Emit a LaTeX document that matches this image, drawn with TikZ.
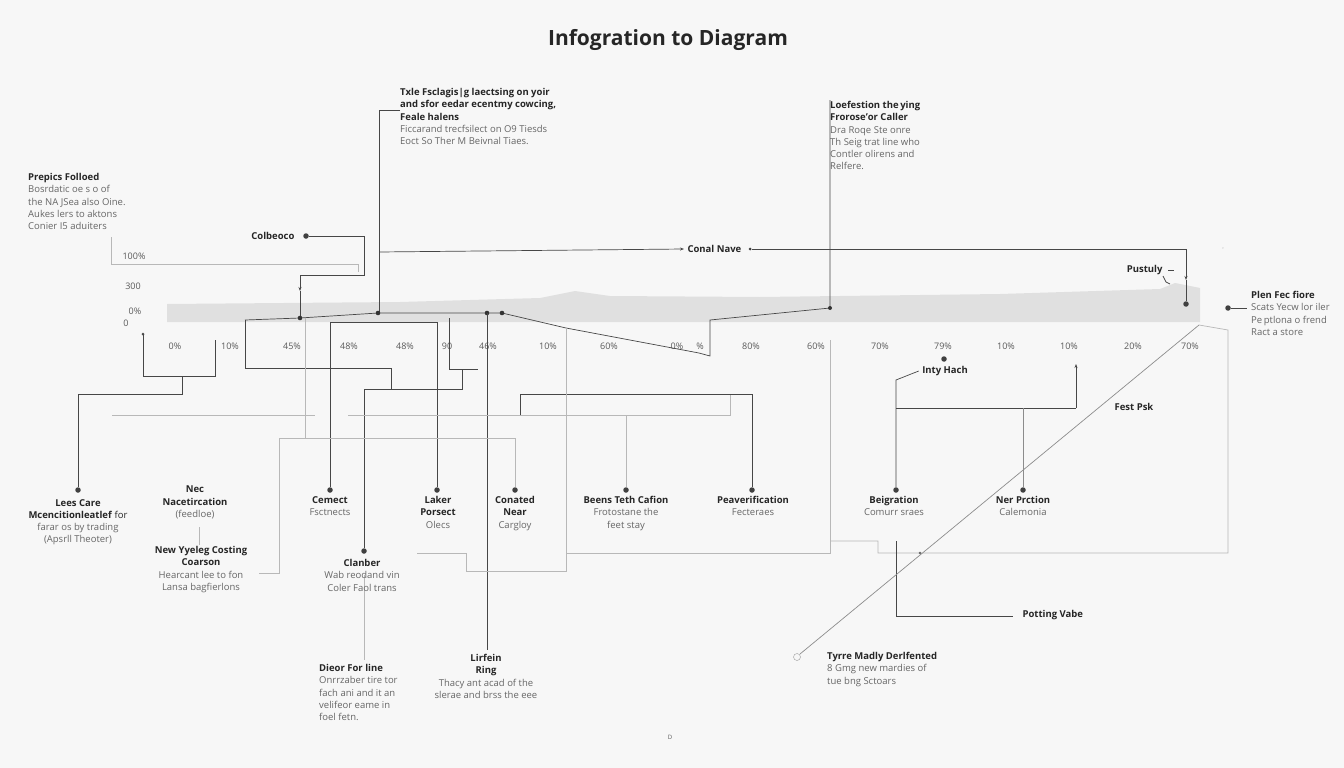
\documentclass[tikz,border=0pt]{standalone}
\usepackage{fontspec}
\setmainfont{Open Sans}
\usetikzlibrary{arrows.meta}
\begin{document}
\begin{tikzpicture}[x=1pt,y=-1pt,
 ln/.style={draw=black!72,line width=0.7pt},
 gl/.style={draw=black!28,line width=0.7pt},
 ar/.style={-{Stealth[length=4pt,width=3pt]}},
 dot/.style={circle,fill=black!75,inner sep=0pt,minimum size=5.5pt},
 lab/.style={align=center,anchor=north,inner sep=0pt,font=\fontsize{9.5}{12.3}\selectfont,text=black!85},
 labl/.style={align=left,anchor=north west,inner sep=0pt,font=\fontsize{9.5}{12.3}\selectfont,text=black!85},
 tick/.style={font=\fontsize{9}{11}\selectfont,text=black!65,inner sep=0pt},
 sub/.style={text=black!60}]
\useasboundingbox[fill=white!97!black] (0,0) rectangle (1344,768);
% title
\node[font=\fontsize{21}{24}\selectfont\bfseries,text=black!85] (title) at (668,40) {Infogration to Diagram};
% band
\fill[black!12] (167,304) -- (400,302) -- (540,298) -- (575,291) -- (610,296) -- (760,297) -- (1000,294) -- (1160,289) -- (1175,283) -- (1200,288) -- (1200,322) -- (167,322) -- cycle;
% axis labels
\foreach \t/\x/\y in {100\%/134/256,300/133/286,0\%/135/311,0/126/323}
  \node[tick] at (\x,\y) {\t};
\foreach \t/\x in {0\%/175,10\%/230,45\%/292,48\%/349,48\%/405,90/447,46\%/488,10\%/548,60\%/609,0\%/677,\%/700,80\%/751,60\%/816,70\%/880,79\%/943,10\%/1006,10\%/1069,20\%/1133,70\%/1190}
  \node[tick] at (\x,346) {\t};
% top labels
\node[labl] (topA) at (400,88) {\textbf{Tхle Fsclagis\textbar g laectsing on yoir}\\\textbf{and sfor eedar ecentmy cowcing,}\\\textbf{Feale halens}\\{\color{black!60}Ficcarand trecfsilect on O9 Tiesds}\\{\color{black!60}Eoct So Ther M Beivnal Tiaes.}};
\node[labl] (topB) at (830,101) {\textbf{Loefestion the\,ying}\\\textbf{Froroseʼor Caller}\\{\color{black!60}Dra Roqe Ste onre}\\{\color{black!60}Th Seig trat line who}\\{\color{black!60}Contler olirens and}\\{\color{black!60}Relfere.}};
\node[labl] (prep) at (28,173) {\textbf{Prepics Folloed}\\{\color{black!60}Bosrdatic oe s o of}\\{\color{black!60}the NA JSea also Oine.}\\{\color{black!60}Aukes lers to aktons}\\{\color{black!60}Conier I5 aduiters}};
\node[font=\fontsize{9.5}{12}\selectfont\bfseries,text=black!85,anchor=east] (colb) at (298,236) {Colbeoco};
\node[dot] (colbd) at (306,236) {};
\node[font=\fontsize{9.5}{12}\selectfont\bfseries,text=black!85,anchor=west] (conal) at (684,249) {Conal Nave};
\node[dot,minimum size=3pt] (conald) at (750,249) {};
\node[font=\fontsize{9.5}{12}\selectfont\bfseries,text=black!85,anchor=east] (pust) at (1166,270) {Pustuly};
\node[dot] (pustd) at (1186,304) {};
\node[dot] (plend) at (1228,308) {};
\node[labl] (plen) at (1251,291) {\textbf{Plen Fec fiore}\\{\color{black!60}Scats Yecw lor iler}\\{\color{black!60}Pe\,ptlona o frend}\\{\color{black!60}Ract a store}};
\node[tick] at (1223,250) {\textsf{\tiny '}};
% top connectors
\draw[ln] (topA.west|-0,110) -- (379,110) -- (379,313);
\draw[ln,ar] (379,252) -- (conal.west);
\draw[ln] (conald) -- (1186,249);
\draw[ln,ar] (1186,249) -- (1186,280);
\draw[ln] (1186,280) -- (pustd);
\draw[ln] (pust.east) ++(2,0) -- ++(6,0);
\draw[ln] (1163,276) -- (1166,282) -- (1170,284);
\draw[ln] (plend) -- (1247,308);
\draw[ln] (colbd) -- (364,236) -- (364,275) -- (300,275);
\draw[ln,ar] (300,275) -- (300,291);
\draw[ln] (300,291) -- (300,318);
\draw[gl] (111,237) -- (111,264) -- (358,264) -- (358,272);
% main line
\draw[ln] (245,320) -- (300,318) -- (378,313) -- (487,313) -- (502,313) -- (566,328) -- (699,353) -- (710,356) -- (710,320) -- (830,308) -- (830,100);
\foreach \p in {(300,318),(378,313),(487,313),(502,313)} \fill[black!80] \p circle (2.3pt);
\fill[black!80] (830,308) circle (2pt);
% lower structure
\fill[black!70] (143,334) circle (1.5pt);
\draw[ln] (143,334) -- (143,376) -- (215,376) -- (215,340);
\node[dot] (leesd) at (78,490) {};
\draw[ln] (182,376) -- (182,394) -- (78,394) -- (leesd);
\draw[ln] (245,320) -- (245,368) -- (391,368) -- (391,389);
\draw[ln] (449,318) -- (449,369) -- (478,369);
\node[dot] (clanbd) at (364,551) {};
\draw[ln] (clanbd) -- (364,389) -- (462,389) -- (462,370);
\node[dot] (connd) at (330,490) {};
\node[dot] (latord) at (437,490) {};
\draw[ln] (connd) -- (330,322) -- (437,322) -- (latord);
\draw[ln] (487,313) -- (487,650);
\node[dot] (conatd) at (515,490) {};
\draw[gl] (305,318) -- (305,438);
\draw[gl] (259,573) -- (279,573) -- (279,438) -- (515,438) -- (conatd);
\draw[gl] (112,415) -- (315,415);
\draw[gl] (348,415) -- (730,415) -- (730,394);
\node[dot] (peavd) at (752,490) {};
\draw[ln] (520,415) -- (520,394) -- (752,394) -- (peavd);
\node[dot] (beensd) at (626,490) {};
\draw[gl] (626,415) -- (beensd);
\draw[gl] (417,553) -- (466,553) -- (466,571) -- (566,571) -- (566,328);
\draw[gl] (566,553) -- (830,553) -- (830,340);
\draw[gl] (830,541) -- (878,541) -- (878,553) -- (1228,553) -- (1228,330) -- (1199,325);
\draw[ln] (896,541) -- (896,616) -- (1013,616);
\node[font=\fontsize{9.5}{12}\selectfont\bfseries,text=black!85,anchor=west] (pott) at (1019,615) {Potting Vabe};
\draw[gl,black!45] (1199,325) -- (800,654);
\draw[black!40] (797,657) circle (3.5pt);
\fill[black!60] (920,553) circle (1.3pt);
\node[dot] (intyd) at (944,359) {};
\node[font=\fontsize{9.5}{12}\selectfont\bfseries,text=black!85] (inty) at (945,371) {Inty Hach};
\node[dot] (beigd) at (896,490) {};
\node[dot] (nerd) at (1023,490) {};
\draw[ln] (inty.west) -- (896,380) -- (beigd);
\draw[ln] (896,408) -- (1076,408);
\draw[ln,ar] (1076,408) -- (1076,364);
\draw[gl,black!45] (1023,408) -- (nerd);
\node[font=\fontsize{9.5}{12}\selectfont\bfseries,text=black!85] (fest) at (1134,407) {Fest Psk};
\draw[gl] (199,527) -- (199,545);
\draw[gl] (364,575) -- (364,660);
% bottom labels
\node[lab] (lees) at (78,499) {\textbf{Lees Care}\\\textbf{Mcencitionleatlef} for\\{\color{black!60}farar os by trading}\\{\color{black!60}(Apsrll Theoter)}};
\node[lab] (nec) at (195,486) {\textbf{Nec}\\\textbf{Nacetircation}\\{\color{black!60}(feedloe)}};
\node[lab] (newy) at (201,546) {\textbf{New Yyeleg Costing}\\\textbf{Coarson}\\{\color{black!60}Hearcant lee to fon}\\{\color{black!60}Lansa bagfierlons}};
\node[lab] (conn) at (330,496) {\textbf{Cemect}\\{\color{black!60}Fsctnects}};
\node[lab] (clanb) at (362,559) {\textbf{Clanber}\\{\color{black!60}Wab reodand vin}\\{\color{black!60}Coler Faol trans}};
\node[lab] (lator) at (438,496) {\textbf{Laker}\\\textbf{Porsect}\\{\color{black!60}Olecs}};
\node[lab] (conat) at (515,496) {\textbf{Conated}\\\textbf{Near}\\{\color{black!60}Cargloy}};
\node[lab] (beens) at (626,496) {\textbf{Beens Teth Cafion}\\{\color{black!60}Frotostane the}\\{\color{black!60}feet stay}};
\node[lab] (peav) at (753,496) {\textbf{Peaverification}\\{\color{black!60}Fecteraes}};
\node[lab] (beig) at (894,496) {\textbf{Beigration}\\{\color{black!60}Comurr sraes}};
\node[lab] (ner) at (1023,496) {\textbf{Ner Prction}\\{\color{black!60}Calemonia}};
\node[labl] (dieor) at (319,664) {\textbf{Dieor For line}\\{\color{black!60}Onrrzaber tire tor}\\{\color{black!60}fach ani and it an}\\{\color{black!60}velifeor eame in}\\{\color{black!60}foel fetn.}};
\node[lab] (lirf) at (486,654) {\textbf{Lirfein}\\\textbf{Ring}\\{\color{black!60}Thacy ant acad of the}\\{\color{black!60}slerae and brss the eee}};
\node[labl] (tyrre) at (827,652) {\textbf{Tyrre Madly Derlfented}\\{\color{black!60}8 Gmg new mardies of}\\{\color{black!60}tue bng Sctoars}};
\node[tick,font=\fontsize{6}{7}\selectfont] (dd) at (670,737) {D};
\end{tikzpicture}
\end{document}
